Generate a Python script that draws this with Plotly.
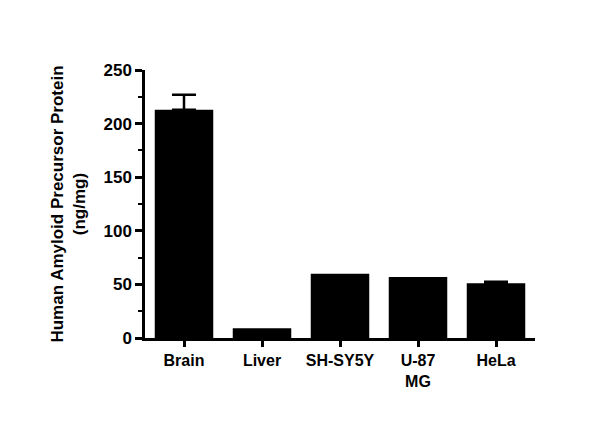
import plotly.graph_objects as go

categories = ["Brain", "Liver", "SH-SY5Y", "U-87<br>MG", "HeLa"]
values = [213, 9, 60, 57, 51]
errors = [14, 0, 0, 0, 1.5]

err_x = [c for c, e in zip(categories, errors) if e > 0]
err_y = [v for v, e in zip(values, errors) if e > 0]
err_e = [e for e in errors if e > 0]

fig = go.Figure(go.Bar(
    x=categories, y=values,
    marker=dict(color="black", line=dict(width=0)),
))
fig.add_trace(go.Scatter(
    x=err_x, y=err_y, mode="markers", marker=dict(size=0.1, color="black"),
    error_y=dict(type="data", array=err_e, symmetric=False, arrayminus=[0]*len(err_e),
                 color="black", thickness=2.5, width=12, visible=True),
))
fig.update_layout(
    width=600, height=426, plot_bgcolor="white", paper_bgcolor="white",
    margin=dict(l=137, r=73, t=62, b=96), bargap=0.25, showlegend=False,
    font=dict(family="Liberation Sans, Arial, sans-serif", size=16, color="black"),
)
fig.update_xaxes(showline=True, linecolor="black", linewidth=2.5, ticks="outside",
                 ticklen=6, tickwidth=2.5, tickcolor="black",
                 tickfont=dict(size=16, family="Liberation Sans", weight="bold"),
                 range=[-0.5, 4.5])
fig.update_yaxes(showline=True, linecolor="black", linewidth=2.5, ticks="outside",
                 ticklen=7, tickwidth=2.5, tickcolor="black", range=[0, 250],
                 tickvals=[0, 50, 100, 150, 200, 250], showgrid=False, zeroline=False,
                 minor=dict(dtick=25, ticks="outside", ticklen=4, tickwidth=2, tickcolor="black"),
                 tickfont=dict(size=17, family="Liberation Sans", weight="bold"),
                 title=dict(text="<b>Human Amyloid Precursor Protein<br>(ng/mg)</b>",
                            font=dict(size=17, family="Liberation Sans"), standoff=14))
fig.write_html("out.html")
